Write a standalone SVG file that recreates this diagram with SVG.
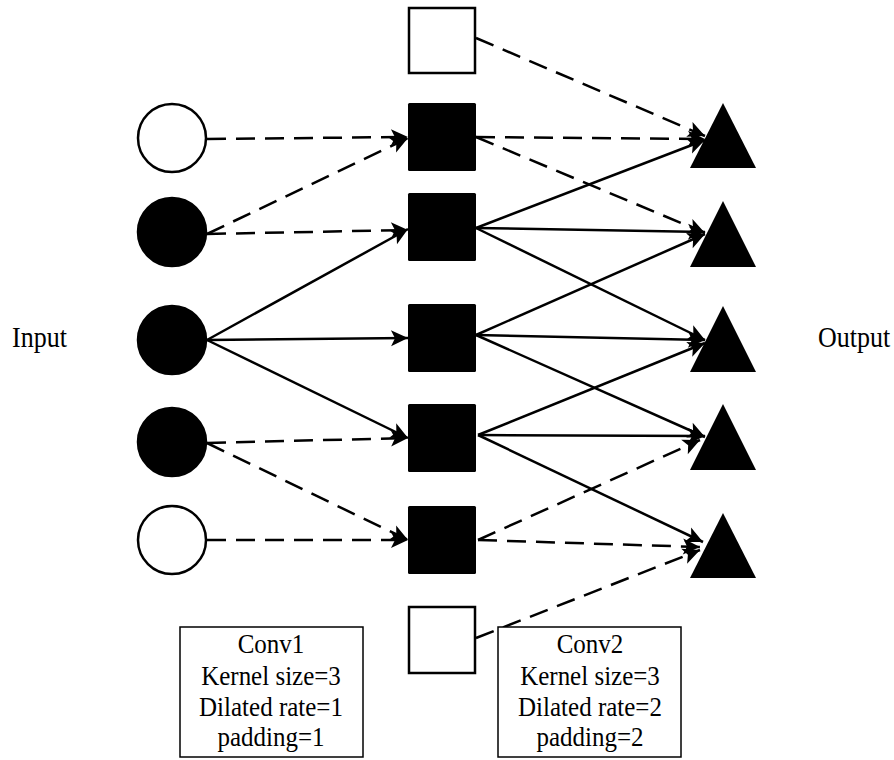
<svg xmlns="http://www.w3.org/2000/svg" width="894" height="760" viewBox="0 0 894 760">
<style>
.c{stroke:#000;stroke-width:2.5}
.open{fill:#fff}
.fill{fill:#000}
.ln{stroke:#000;stroke-width:2.5;fill:none;marker-end:url(#ah)}
.d{stroke-dasharray:19 10}
.box{fill:#fff;stroke:#000;stroke-width:1.5}
.t{font-family:"Liberation Serif","Times New Roman",serif;font-size:25px;fill:#000;text-anchor:middle}
.lbl{font-family:"Liberation Serif","Times New Roman",serif;font-size:26px;fill:#000}
</style>
<defs>
<marker id="ah" markerUnits="userSpaceOnUse" markerWidth="18" markerHeight="18" refX="17" refY="8" orient="auto" overflow="visible">
<path d="M0,0 L17,8 L0,16 L4,8 z" fill="#000" stroke="none"/>
</marker>
</defs>
<rect width="894" height="760" fill="#fff"/>
<g id="connectors">
<line class="ln d" x1="207" y1="139" x2="408" y2="137"/>
<line class="ln d" x1="207" y1="234" x2="408" y2="138"/>
<line class="ln d" x1="207" y1="234" x2="408" y2="230"/>
<line class="ln" x1="207" y1="340" x2="408" y2="229"/>
<line class="ln" x1="207" y1="340" x2="408" y2="338"/>
<line class="ln" x1="207" y1="340" x2="408" y2="438"/>
<line class="ln d" x1="207" y1="443" x2="408" y2="438"/>
<line class="ln d" x1="207" y1="443" x2="408" y2="540"/>
<line class="ln d" x1="207" y1="540" x2="408" y2="540"/>
<line class="ln d" x1="476" y1="38" x2="705" y2="136"/>
<line class="ln d" x1="476" y1="137" x2="705" y2="139"/>
<line class="ln d" x1="476" y1="137" x2="705" y2="233"/>
<line class="ln" x1="476" y1="228" x2="705" y2="140"/>
<line class="ln" x1="476" y1="228" x2="705" y2="232"/>
<line class="ln" x1="476" y1="228" x2="705" y2="340"/>
<line class="ln" x1="476" y1="335" x2="705" y2="234"/>
<line class="ln" x1="476" y1="335" x2="705" y2="340"/>
<line class="ln" x1="476" y1="335" x2="705" y2="437"/>
<line class="ln" x1="478" y1="435" x2="705" y2="343"/>
<line class="ln" x1="478" y1="435" x2="705" y2="436"/>
<line class="ln" x1="478" y1="435" x2="703" y2="542"/>
<line class="ln d" x1="478" y1="540" x2="700" y2="440"/>
<line class="ln d" x1="478" y1="540" x2="700" y2="547"/>
<line class="ln d" x1="476" y1="638" x2="700" y2="550"/>
</g>
<g id="in1"><circle class="c open" cx="172" cy="138" r="34"/></g>
<g id="in2"><circle class="c fill" cx="172" cy="232" r="34"/></g>
<g id="in3"><circle class="c fill" cx="172" cy="340" r="34"/></g>
<g id="in4"><circle class="c fill" cx="172" cy="442" r="34"/></g>
<g id="in5"><circle class="c open" cx="172" cy="540" r="34"/></g>
<g id="h0"><rect class="c open" x="409" y="8" width="66" height="65"/></g>
<g id="h1"><rect class="fill" x="408" y="103" width="68" height="68" rx="1.5"/></g>
<g id="h2"><rect class="fill" x="408" y="193" width="68" height="68" rx="1.5"/></g>
<g id="h3"><rect class="fill" x="408" y="304" width="68" height="68" rx="1.5"/></g>
<g id="h4"><rect class="fill" x="408" y="404" width="68" height="68" rx="1.5"/></g>
<g id="h5"><rect class="fill" x="408" y="506" width="68" height="68" rx="1.5"/></g>
<g id="h6"><rect class="c open" x="409" y="607" width="66" height="66"/></g>
<g id="out1"><polygon class="fill" points="723,103 690,168 756,168"/></g>
<g id="out2"><polygon class="fill" points="723,201 690,267 756,267"/></g>
<g id="out3"><polygon class="fill" points="723,306 690,372 756,372"/></g>
<g id="out4"><polygon class="fill" points="723,404 690,470 756,470"/></g>
<g id="out5"><polygon class="fill" points="723,513 690,578 756,578"/></g>
<g id="input-label"><text class="lbl" transform="translate(12,347) scale(1,1.15)">Input</text></g>
<g id="output-label"><text class="lbl" transform="translate(818,347) scale(1,1.15)">Output</text></g>
<g id="conv1">
<rect class="box" x="180" y="627" width="183" height="130"/>
<text class="t" transform="translate(271,653) scale(1,1.12)">Conv1</text>
<text class="t" transform="translate(271,685) scale(1,1.12)">Kernel size=3</text>
<text class="t" transform="translate(271,716) scale(1,1.12)">Dilated rate=1</text>
<text class="t" transform="translate(271,746) scale(1,1.12)">padding=1</text>
</g>
<g id="conv2">
<rect class="box" x="498" y="627" width="183" height="130"/>
<text class="t" transform="translate(590,653) scale(1,1.12)">Conv2</text>
<text class="t" transform="translate(590,685) scale(1,1.12)">Kernel size=3</text>
<text class="t" transform="translate(590,716) scale(1,1.12)">Dilated rate=2</text>
<text class="t" transform="translate(590,746) scale(1,1.12)">padding=2</text>
</g>
</svg>
